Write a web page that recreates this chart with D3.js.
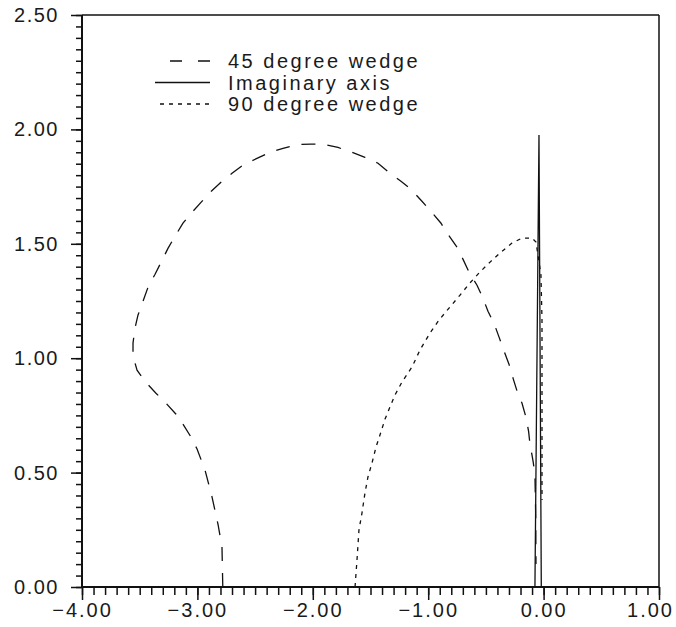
<!DOCTYPE html>
<html>
<head>
<meta charset="utf-8">
<script src="https://cdn.jsdelivr.net/npm/d3@7"></script>
<style>
body { margin: 0; background: #fff; }
text { font-family: "Liberation Sans", Arial, sans-serif; fill: #1a1a1a; letter-spacing: 2.5px; }
</style>
</head>
<body>
<script>
// curves, [x, y]
var wedge45 = [
    [-2.78, 0.00], [-2.787, 0.175], [-2.82, 0.27], [-2.873, 0.393], [-2.934, 0.511],
    [-3.003, 0.603], [-3.055, 0.655], [-3.125, 0.712], [-3.185, 0.755], [-3.281, 0.808],
    [-3.359, 0.847], [-3.454, 0.899], [-3.523, 0.948], [-3.558, 1.009], [-3.558, 1.066],
    [-3.541, 1.131], [-3.515, 1.188], [-3.471, 1.249], [-3.428, 1.31], [-3.367, 1.367],
    [-3.315, 1.419], [-3.255, 1.480], [-3.194, 1.533], [-3.125, 1.590], [-3.055, 1.633],
    [-2.969, 1.681], [-2.882, 1.729], [-2.796, 1.769], [-2.700, 1.808], [-2.596, 1.847],
    [-2.484, 1.873], [-2.371, 1.900], [-2.258, 1.917], [-2.137, 1.934], [-2.016, 1.936],
    [-1.903, 1.934], [-1.782, 1.921], [-1.660, 1.900], [-1.548, 1.878], [-1.435, 1.852],
    [-1.340, 1.812], [-1.236, 1.773], [-1.149, 1.738], [-1.054, 1.686], [-0.976, 1.642],
    [-0.889, 1.590], [-0.828, 1.541], [-0.750, 1.485], [-0.698, 1.432], [-0.646, 1.376],
    [-0.577, 1.319], [-0.525, 1.262], [-0.482, 1.205], [-0.430, 1.153], [-0.386, 1.092],
    [-0.343, 1.031], [-0.300, 0.974], [-0.265, 0.913], [-0.230, 0.856], [-0.187, 0.803],
    [-0.153, 0.742], [-0.130, 0.680], [-0.120, 0.633], [-0.090, 0.546], [-0.075, 0.489],
    [-0.068, 0.30], [-0.066, 0.10]
];

var imagAxis = [[-0.075, 0.00], [-0.040, 1.976], [-0.020, 0.00]];

var wedge90 = [
    [-1.634, 0.00], [-1.617, 0.118], [-1.600, 0.249], [-1.574, 0.323], [-1.548, 0.411],
    [-1.522, 0.481], [-1.487, 0.542], [-1.452, 0.612], [-1.418, 0.664], [-1.374, 0.734],
    [-1.331, 0.787], [-1.288, 0.839], [-1.227, 0.896], [-1.140, 0.962], [-1.071, 1.036],
    [-0.984, 1.110], [-0.906, 1.167], [-0.811, 1.224], [-0.724, 1.276], [-0.638, 1.329],
    [-0.551, 1.377], [-0.464, 1.420], [-0.378, 1.460], [-0.274, 1.503], [-0.187, 1.525],
    [-0.101, 1.525], [-0.066, 1.508], [-0.049, 1.451], [-0.023, 1.364], [-0.014, 1.167],
    [-0.014, 0.730], [-0.014, 0.380]
];

var legendLabels = ['45 degree wedge', 'Imaginary axis', '90 degree wedge'];

var xMajor = [-4, -3, -2, -1, 0, 1];
var yMajor = [0, 0.5, 1, 1.5, 2, 2.5];

var width = 676, height = 627;
var margin = {left: 82, right: 17, top: 15, bottom: 40};

var svg = d3.select('body').append('svg').attr('width', width).attr('height', height);

var x = d3.scaleLinear().domain([-4, 1]).range([margin.left, width - margin.right]);
var y = d3.scaleLinear().domain([0, 2.5]).range([height - margin.bottom, margin.top]);

var fmt = d3.format('.2f');

// minor ticks
svg.append('g')
    .attr('transform', 'translate(0,' + y(0) + ')')
    .call(d3.axisBottom(x).tickValues(d3.range(-40, 11).map(function(d){ return d / 10; }))
        .tickSize(8).tickFormat(''))
    .call(function(g){ g.select('.domain').remove(); });
svg.append('g')
    .attr('transform', 'translate(' + x(-4) + ',0)')
    .call(d3.axisLeft(y).tickValues(d3.range(0, 51).map(function(d){ return d / 20; }))
        .tickSize(6).tickFormat(''))
    .call(function(g){ g.select('.domain').remove(); });

// major ticks + labels
var xAxis = svg.append('g')
    .attr('transform', 'translate(0,' + y(0) + ')')
    .call(d3.axisBottom(x).tickValues(xMajor).tickSize(13).tickPadding(3).tickFormat(fmt));
var yAxis = svg.append('g')
    .attr('transform', 'translate(' + x(-4) + ',0)')
    .call(d3.axisLeft(y).tickValues(yMajor).tickSize(11).tickPadding(12).tickFormat(fmt));

svg.selectAll('.tick line').attr('stroke', '#111').attr('stroke-width', 1.5);
svg.selectAll('.tick text').attr('font-size', 20).attr('fill', '#1a1a1a')
    .style('font-family', '"Liberation Sans", Arial, sans-serif');
yAxis.selectAll('.tick text').style('letter-spacing', '1.5px');
xAxis.selectAll('.tick text').style('letter-spacing', '2px')
    .attr('dx', function(d){ return d === 1 ? -9 : 0; });
xAxis.select('.domain').remove();
yAxis.select('.domain').remove();

// frame
var frame = svg.append('g').attr('stroke', '#111').attr('fill', 'none');
frame.append('line').attr('x1', x(-4)).attr('x2', x(1)).attr('y1', y(0)).attr('y2', y(0)).attr('stroke-width', 2);
frame.append('line').attr('x1', x(-4)).attr('x2', x(-4)).attr('y1', y(0)).attr('y2', y(2.5)).attr('stroke-width', 2);
frame.append('line').attr('x1', x(-4)).attr('x2', x(1)).attr('y1', y(2.5)).attr('y2', y(2.5)).attr('stroke-width', 1.5);
frame.append('line').attr('x1', x(1)).attr('x2', x(1)).attr('y1', y(0)).attr('y2', y(2.5)).attr('stroke-width', 1.5);

var line = d3.line()
    .x(function(d){ return x(d[0]); })
    .y(function(d){ return y(d[1]); });

var series = [
    {data: wedge45, dash: '14,12'},
    {data: imagAxis, dash: null},
    {data: wedge90, dash: '4,5'}
];

svg.selectAll('.curve').data(series).enter().append('path')
    .attr('class', 'curve')
    .attr('d', function(d){ return line(d.data); })
    .attr('fill', 'none')
    .attr('stroke', '#111')
    .attr('stroke-width', 1.3)
    .attr('stroke-dasharray', function(d){ return d.dash; });

// legend
var legendDash = ['12,16', null, '4,5'];
var legendStart = [170, 155, 160];
var leg = svg.append('g');
legendLabels.forEach(function(lbl, i){
    var ly = 61 + i * 21.5;
    leg.append('line')
        .attr('x1', legendStart[i]).attr('x2', 210)
        .attr('y1', ly).attr('y2', ly)
        .attr('stroke', '#111').attr('stroke-width', 1.3)
        .attr('stroke-dasharray', legendDash[i]);
    leg.append('text')
        .attr('x', 228).attr('y', ly + 7)
        .attr('font-size', 20)
        .text(lbl);
});
</script>
</body>
</html>
